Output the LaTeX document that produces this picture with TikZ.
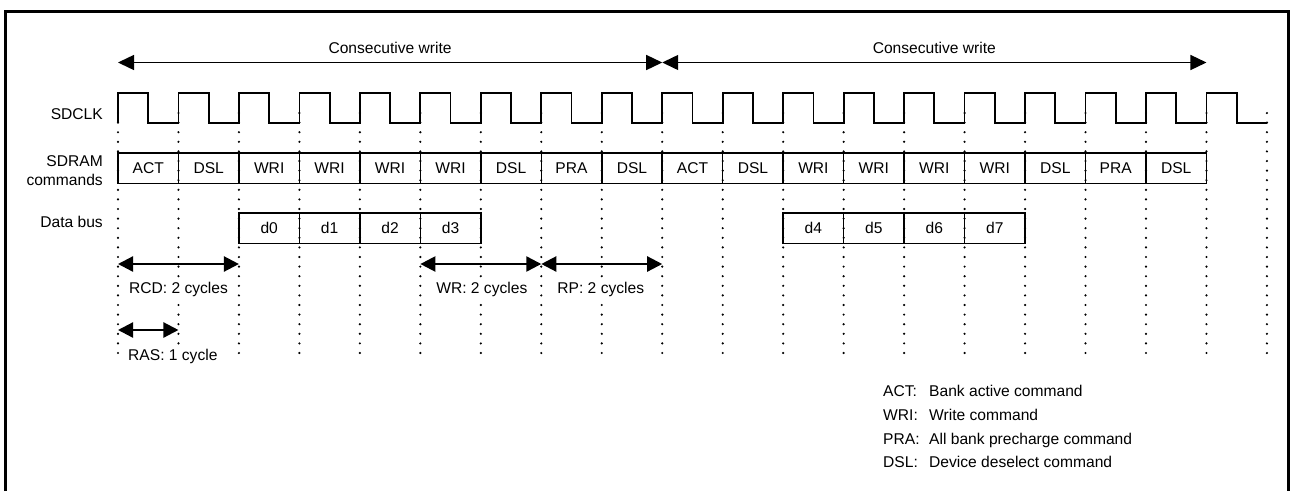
\documentclass[tikz,border=0pt]{standalone}
\usepackage{fontspec}
\setmainfont{Liberation Sans}
\usetikzlibrary{arrows.meta}
\begin{document}
\def\P{60.47}
\def\xz{118}
\tikzset{
  txt/.style={inner sep=0pt, font=\fontsize{15.6}{18}\selectfont},
  tlbl/.style={txt, fill=white, inner xsep=1pt},
  cell/.style={draw, line width=1.5pt, minimum width=60.47pt, minimum height=30.5pt, inner sep=0pt, font=\fontsize{15.6}{18}\selectfont},
  clk/.style={line width=1.8pt, line join=miter},
  dotline/.style={line width=2.4pt, dash pattern=on 0pt off 9.6pt, line cap=round},
  warrow/.style={line width=1.4pt, {Triangle[length=16pt,width=15pt]}-{Triangle[length=16pt,width=15pt]}},
  tarrow/.style={line width=2.3pt, {Triangle[length=15pt,width=15pt]}-{Triangle[length=15pt,width=15pt]}},
  frame/.style={line width=3pt}
}
\begin{tikzpicture}[x=1pt, y=-1pt]
\useasboundingbox (0,0) rectangle (1290,491);
% frame (open at the bottom)
\draw[frame] (5.3,491) -- (5.3,11) -- (1288.5,11) -- (1288.5,491);

% dotted edge lines
\foreach \i in {0,...,19} {
  \draw[dotline] ({\xz+\P*\i},113) -- ({\xz+\P*\i},358);
}

% clock
\draw[clk] (\xz,122.7) foreach \i in {0,...,18} { -- ++(0,-30) -- ++({\P/2},0) -- ++(0,30) -- ++({\P/2},0) };

% row labels
\node[txt, anchor=base east] (lclk) at (103,119.3) {SDCLK};
\node[txt, anchor=base east] (lcmd1) at (103,166.7) {SDRAM};
\node[txt, anchor=base east] (lcmd2) at (103,185) {commands};
\node[txt, anchor=base east] (ldata) at (103,227.3) {Data bus};

% command cells
\foreach \lab [count=\k from 0] in {ACT,DSL,WRI,WRI,WRI,WRI,DSL,PRA,DSL,ACT,DSL,WRI,WRI,WRI,WRI,DSL,PRA,DSL} {
  \node[cell] (c\k) at ({\xz+\P*(\k+0.5)},168) {\lab};
}

% data cells
\foreach \k in {0,1,2,3} {
  \node[cell] (d\k) at ({\xz+\P*(\k+2.5)},228.2) {d\k};
}
\foreach \k in {4,5,6,7} {
  \node[cell] (d\k) at ({\xz+\P*(\k+7.5)},228.2) {d\k};
}

% top arrows
\coordinate (top0) at (\xz,62.5);
\coordinate (top9) at ({\xz+9*\P},62.5);
\coordinate (top18) at ({\xz+18*\P},62.5);
\draw[warrow] (top0) -- (top9);
\draw[warrow] (top9) -- (top18);
\node[txt, anchor=base] (cw1) at ({\xz+4.5*\P},53.3) {Consecutive write};
\node[txt, anchor=base] (cw2) at ({\xz+13.5*\P},53.3) {Consecutive write};

% timing arrows
\coordinate (tm0) at (\xz,264);
\coordinate (tm2) at ({\xz+2*\P},264);
\coordinate (tm5) at ({\xz+5*\P},264);
\coordinate (tm7) at ({\xz+7*\P},264);
\coordinate (tm9) at ({\xz+9*\P},264);
\coordinate (rs0) at (\xz,330);
\coordinate (rs1) at ({\xz+\P},330);
\draw[tarrow] (tm0) -- (tm2);
\draw[tarrow] (tm5) -- (tm7);
\draw[tarrow] (tm7) -- (tm9);
\draw[tarrow] (rs0) -- (rs1);
\node[tlbl, anchor=base] (rcd) at ({\xz+\P},293.4) {RCD: 2 cycles};
\node[tlbl, anchor=base] (wr) at ({\xz+6*\P+1},293.4) {WR: 2 cycles};
\node[tlbl, anchor=base] (rp) at ({\xz+8*\P-1},293.4) {RP: 2 cycles};
\node[tlbl, anchor=base west] (ras) at (127,360.7) {RAS: 1 cycle};

% legend
\node[txt, anchor=base west] (k1) at (883,396.5) {ACT:};
\node[txt, anchor=base west] (k2) at (883,420.3) {WRI:};
\node[txt, anchor=base west] (k3) at (883,444.1) {PRA:};
\node[txt, anchor=base west] (k4) at (883,467.9) {DSL:};
\node[txt, anchor=base west] (v1) at (929,396.5) {Bank active command};
\node[txt, anchor=base west] (v2) at (929,420.3) {Write command};
\node[txt, anchor=base west] (v3) at (929,444.1) {All bank precharge command};
\node[txt, anchor=base west] (v4) at (929,467.9) {Device deselect command};
\end{tikzpicture}
\end{document}
